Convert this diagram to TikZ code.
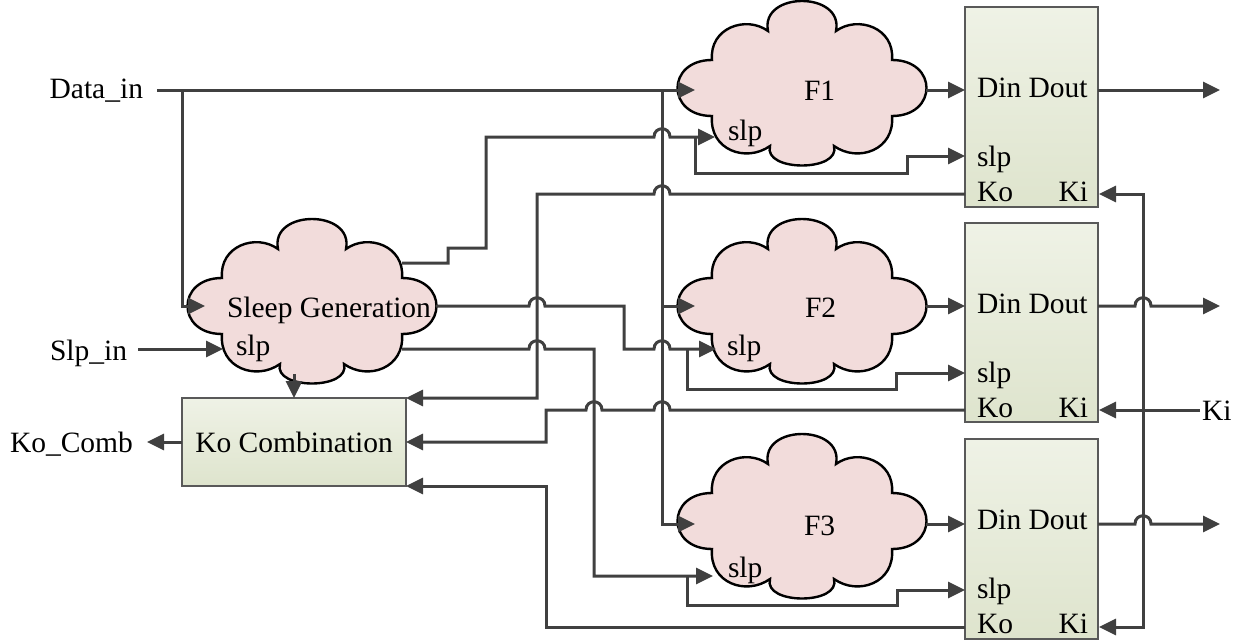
\documentclass[tikz,border=0pt]{standalone}
\usepackage{fontspec}
\setmainfont{Liberation Serif}
\usetikzlibrary{arrows.meta}
\definecolor{linec}{RGB}{64,64,64}
\definecolor{cloudfill}{RGB}{242,220,219}
\definecolor{boxtop}{RGB}{239,242,230}
\definecolor{boxbot}{RGB}{222,228,205}
\definecolor{boxdraw}{RGB}{89,89,89}
\begin{document}
\begin{tikzpicture}[x=1pt,y=-1pt,
  lbl/.style={font=\fontsize{29.5}{34}\selectfont, inner sep=0pt, outer sep=0pt},
  conn/.style={draw=linec, line width=3pt, line join=miter},
  tip/.style={conn, -{Triangle[length=17pt,width=16pt]}},
  fbox/.style={draw=boxdraw, line width=2.4pt, top color=boxtop, bottom color=boxbot,
    minimum width=133pt, inner sep=0pt},
  hopr/.style args={#1/#2}{insert path={-- ({#1-8},#2) .. controls ({#1-8},{#2-11}) and ({#1+8},{#2-11}) .. ({#1+8},#2)}},
  hopl/.style args={#1/#2}{insert path={-- ({#1+8},#2) .. controls ({#1+8},{#2-11}) and ({#1-8},{#2-11}) .. ({#1-8},#2)}},
  cloudpic/.pic={
    \path[draw=black, line width=2.4pt, fill=cloudfill]
      (-90,28) .. controls (-136,28) and (-136,-28) .. (-90,-28)
      .. controls (-93,-60) and (-56,-73) .. (-34,-57)
      .. controls (-42,-97) and (42,-97) .. (34,-57)
      .. controls (56,-73) and (93,-60) .. (90,-28)
      .. controls (136,-28) and (136,28) .. (90,28)
      .. controls (93,62) and (56,75) .. (32,58)
      .. controls (39,84) and (-39,84) .. (-32,58)
      .. controls (-56,75) and (-93,62) .. (-90,28) -- cycle;
  }
]
\useasboundingbox (0,0) rectangle (1245,642);

% clouds
\coordinate (sg) at (312,306);
\coordinate (f1) at (802,88);
\coordinate (f2) at (802,306);
\coordinate (f3) at (802,521);
\pic at (sg) {cloudpic};
\pic at (f1) {cloudpic};
\pic at (f2) {cloudpic};
\pic at (f3) {cloudpic};

% boxes
\node[fbox, minimum height=200pt] (b1) at (1031.5,107) {};
\node[fbox, minimum height=199pt] (b2) at (1031.5,322.5) {};
\node[fbox, minimum height=200pt] (b3) at (1031.5,539) {};
\node[fbox, lbl, minimum width=224pt, minimum height=88pt] (kc) at (294,442) {Ko Combination};

% ports
\coordinate (din) at (157,90);
\coordinate (sgin) at (205,306);
\coordinate (slpin) at (138,349);
\coordinate (sgslp) at (223,349);
\coordinate (sgo1) at (402,263);
\coordinate (sgo2) at (436,306);
\coordinate (sgo3) at (402,349);
\coordinate (sgbot) at (294,374);
\coordinate (kcout) at (147,442);
\coordinate (f1in) at (695,90);
\coordinate (f2in) at (695,306);
\coordinate (f3in) at (695,524);
\coordinate (f1slp) at (715,137);
\coordinate (f2slp) at (716,349);
\coordinate (f3slp) at (713,576);
\coordinate (f1out) at (926,90);
\coordinate (f2out) at (926,306);
\coordinate (f3out) at (926,524);
\coordinate (b1din) at (965,90);
\coordinate (b2din) at (965,306);
\coordinate (b3din) at (965,524);
\coordinate (b1slp) at (965,156);
\coordinate (b2slp) at (965,373);
\coordinate (b3slp) at (965,590);
\coordinate (b1ko) at (965,194);
\coordinate (b2ko) at (965,410);
\coordinate (b3ko) at (965,627);
\coordinate (b1dout) at (1098,90);
\coordinate (b2dout) at (1098,306);
\coordinate (b3dout) at (1098,524);
\coordinate (o1) at (1220,90);
\coordinate (o2) at (1220,306);
\coordinate (o3) at (1220,524);
\coordinate (b1ki) at (1099,194);
\coordinate (b2ki) at (1099,410);
\coordinate (b3ki) at (1099,627);
\coordinate (kiin) at (1200,410);

% Data_in distribution
\draw[tip] (din) -- (f1in);
\draw[tip] (182,90) -- (182,306) -- (sgin);
\draw[tip] (662,90) -- (662,524) -- (f3in);
\draw[tip] (662,306) -- (f2in);
% Slp_in
\draw[tip] (slpin) -- (sgslp);
% sleep outputs
\draw[tip] (sgo1) -- (448,263) -- (448,248) -- (486,248) -- (486,137) [hopr=662/137] -- (f1slp);
\draw[tip] (695,137) -- (695,173) -- (907,173) -- (907,156) -- (b1slp);
\draw[tip] (sgo2) [hopr=537/306] -- (624,306) -- (624,349) [hopr=662/349] -- (f2slp);
\draw[tip] (687,349) -- (687,389) -- (896,389) -- (896,373) -- (b2slp);
\draw[tip] (sgo3) [hopr=537/349] -- (594,349) -- (594,576) -- (f3slp);
\draw[tip] (687,576) -- (687,605) -- (897,605) -- (897,590) -- (b3slp);
% Ko lines
\draw[tip] (b1ko) [hopl=662/194] -- (537,194) -- (537,398) -- (kc.north east);
\draw[tip] (b2ko) [hopl=662/410] [hopl=594/410] -- (546,410) -- (546,442) -- (kc.east);
\draw[tip] (b3ko) -- (546,627) -- (546,486) -- (kc.south east);
\draw[tip] (sgbot) -- (kc.north);
\draw[tip] (kc.west) -- (kcout);
% clouds to boxes
\draw[tip] (f1out) -- (b1din);
\draw[tip] (f2out) -- (b2din);
\draw[tip] (f3out) -- (b3din);
% outputs
\draw[tip] (b1dout) -- (o1);
\draw[tip] (b2dout) [hopr=1143/306] -- (o2);
\draw[tip] (b3dout) [hopr=1143/524] -- (o3);
% Ki
\draw[tip] (kiin) -- (b2ki);
\draw[conn, {Triangle[length=17pt,width=16pt]}-{Triangle[length=17pt,width=16pt]}] (b1ki) -- (1143,194) -- (1143,627) -- (b3ki);

% texts
\node[lbl, anchor=base east] (tdata) at (143,99) {Data\_in};
\node[lbl, anchor=base west] (tslpin) at (50,360) {Slp\_in};
\node[lbl, anchor=base west] (tkocomb) at (10,452) {Ko\_Comb};
\node[lbl, anchor=base west] (tki) at (1202,420) {Ki};
\node[lbl, anchor=base west] (tsg) at (227,317) {Sleep Generation};
\node[lbl, anchor=base west] (tsgslp) at (236,355) {slp};
\node[lbl, anchor=base west] (tf1) at (804,100) {F1};
\node[lbl, anchor=base west] (tf2) at (805,317) {F2};
\node[lbl, anchor=base west] (tf3) at (804,535) {F3};
\node[lbl, anchor=base west] (tf1slp) at (728,140) {slp};
\node[lbl, anchor=base west] (tf2slp) at (727,355) {slp};
\node[lbl, anchor=base west] (tf3slp) at (728,577) {slp};
\foreach \n/\dy in {1/7,2/223,3/439}{
  \node[lbl, anchor=base west] (tb\n din) at (977,{\dy+90}) {Din Dout};
  \node[lbl, anchor=base west] (tb\n slp) at (977,{\dy+159}) {slp};
  \node[lbl, anchor=base west] (tb\n ko) at (977,{\dy+194}) {Ko};
  \node[lbl, anchor=base east] (tb\n ki) at (1088,{\dy+194}) {Ki};
}
\end{tikzpicture}
\end{document}
